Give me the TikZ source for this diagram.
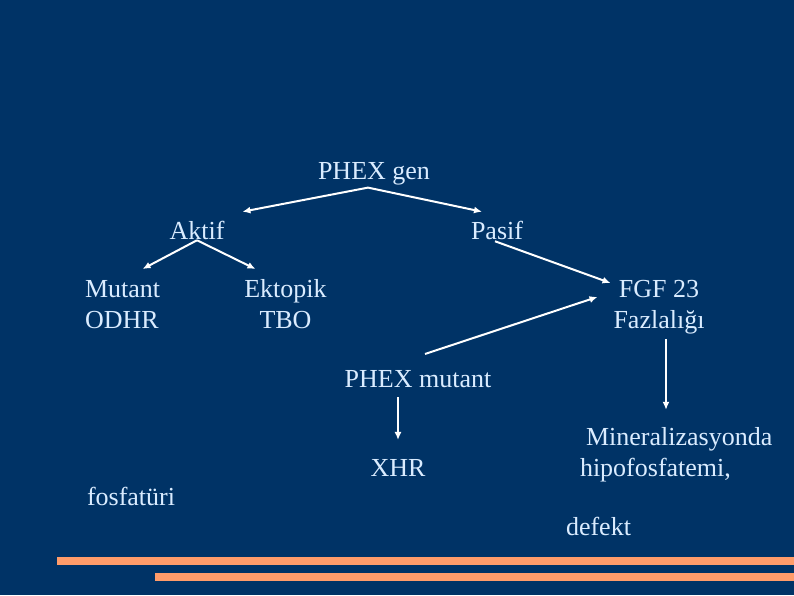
\documentclass[tikz,border=0pt]{standalone}
\usepackage{fontspec}
\setmainfont{Liberation Serif}
\usetikzlibrary{arrows.meta}
\definecolor{slidebg}{RGB}{0,51,102}
\definecolor{slidetxt}{RGB}{218,236,255}
\definecolor{slidebar}{RGB}{255,156,106}
\begin{document}
\begin{tikzpicture}[
  x=1pt, y=-1pt,
  lbl/.style={
    text=slidetxt, inner sep=0pt, outer sep=0pt,
    font=\fontsize{26}{31}\selectfont
  },
  arr/.style={-{Latex[length=8pt,width=7pt]}, line width=2pt, white}
]

%% -- Slide background and bars --------------------------------
\fill[slidebg] (0,0) rectangle (794,595);
\useasboundingbox (0,0) rectangle (794,595);
\fill[slidebar] (57,557) rectangle (794,565);
\fill[slidebar] (155,573) rectangle (794,581);

%% -- Labels ---------------------------------------------------
\node[lbl, anchor=base] (gen)   at (374,179) {PHEX gen};
\node[lbl, anchor=base] (aktif) at (197,239) {Aktif};
\node[lbl, anchor=base] (pasif) at (497,239) {Pasif};

\node[lbl, anchor=north west, align=left]   (mutant)  at (85,280)    {Mutant\\ODHR};
\node[lbl, anchor=north, align=center]      (ektopik) at (285.5,279) {Ektopik\\TBO};
\node[lbl, anchor=north, align=center]      (fgf)     at (659,280)   {FGF 23\\Fazlalığı};

\node[lbl, anchor=base] (pmut) at (418,387) {PHEX mutant};
\node[lbl, anchor=base] (xhr)  at (398,476) {XHR};
\node[lbl, anchor=north west, align=left] (mineral) at (580,427)
  {\hspace*{6pt}Mineralizasyonda\\hipofosfatemi,};
\node[lbl, anchor=base west] (defekt)    at (566,535) {defekt};
\node[lbl, anchor=base west] (fosfaturi) at (87,505)  {fosfatüri};

%% -- Arrows ---------------------------------------------------
\draw[arr] ([xshift=-6pt,yshift=-3pt]gen.south) -- ([xshift=18pt,yshift=9pt]aktif.north east);
\draw[arr] ([xshift=-6pt,yshift=-3pt]gen.south) -- ([xshift=11pt,yshift=9pt]pasif.north west);

\draw[arr] ([yshift=-1pt]aktif.south) -- ([xshift=20pt,yshift=11pt]mutant.north);
\draw[arr] ([yshift=-1pt]aktif.south) -- ([xshift=-30pt,yshift=10pt]ektopik.north);

\draw[arr] ([xshift=-2pt,yshift=-2pt]pasif.south) -- ([xshift=-3pt,yshift=-3pt]fgf.north west);
\draw[arr] ([xshift=7pt,yshift=16pt]pmut.north) -- ([xshift=-16pt,yshift=10pt]fgf.west);

\draw[arr] ([xshift=7pt,yshift=-5pt]fgf.south) -- ([xshift=7pt,yshift=-76pt]fgf.south);
\draw[arr] ([yshift=-10pt]pmut.south -| xhr.north) -- ([yshift=19pt]xhr.north);

\end{tikzpicture}
\end{document}
